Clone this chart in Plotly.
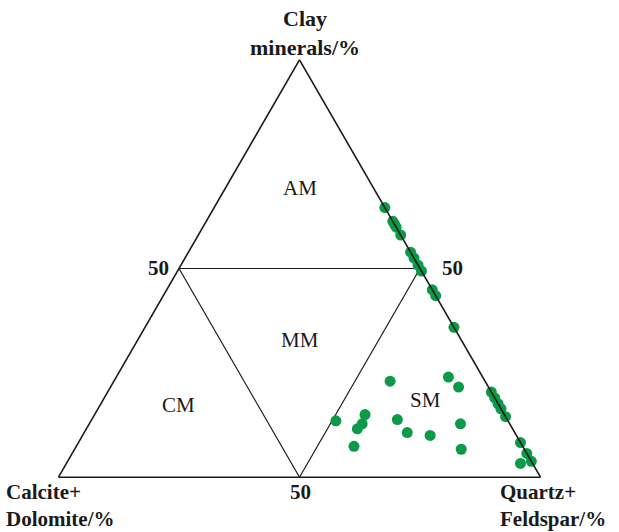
import plotly.graph_objects as go

# Sample composition (percent): clay minerals, calcite+dolomite, quartz+feldspar
clay = [64.6, 61.3, 60.6, 59.9, 58.0, 53.9, 52.5, 50.8, 49.4, 44.9, 43.5, 35.9,
        13.5, 15.0, 12.8, 11.6, 7.4, 23.0, 13.8, 10.7, 10.0, 24.0, 21.6, 12.8, 6.7,
        20.4, 19.0, 17.6, 16.4, 14.5, 8.3, 5.7, 3.8, 3.3]
carbonate = [0, 0, 0, 0, 0, 0, 0, 0, 0, 0, 0, 0,
             35.7, 28.9, 30.6, 32.2, 35.0, 19.7, 22.8, 22.3, 17.9, 7.1, 6.2, 10.2, 13.1,
             0, 0, 0, 0, 0, 0, 0, 0, 2.5]
quartz_feldspar = [35.4, 38.7, 39.4, 40.1, 42.0, 46.1, 47.5, 49.2, 50.6, 55.1, 56.5, 64.1,
                   50.8, 56.1, 56.6, 56.2, 57.6, 57.3, 63.4, 67.0, 72.1, 68.9, 72.2, 77.0, 80.2,
                   79.6, 81.0, 82.4, 83.6, 85.5, 91.7, 94.3, 96.2, 94.2]

# Lithofacies boundaries at 50 %
half = 50
region_names = ["AM", "MM", "CM", "SM"]

W, H = 619, 532
SERIF = "Liberation Serif, Times New Roman, serif"
INK = "#1a1a1a"
GREEN = "#0c9a48"

fig = go.Figure()

# Inner dividing lines: a=50 horizontal, and the two edges of the central triangle
boundaries = [
    ([half, half], [half, 0], [0, half]),
    ([half, 0], [half, half], [0, half]),
    ([half, 0], [0, half], [half, half]),
]
for a, b, c in boundaries:
    fig.add_trace(go.Scatterternary(
        a=a, b=b, c=c, mode="lines",
        line=dict(color=INK, width=1.2),
        hoverinfo="skip", showlegend=False,
    ))

fig.add_trace(go.Scatterternary(
    a=clay, b=carbonate, c=quartz_feldspar, mode="markers",
    marker=dict(color=GREEN, size=11, line=dict(width=0)),
    cliponaxis=False, showlegend=False,
))

axis_style = dict(
    showgrid=False, showticklabels=False, ticks="",
    linecolor=INK, linewidth=1.6, min=0, title=dict(text=""),
)

fig.update_layout(
    width=W, height=H,
    margin=dict(l=0, r=0, t=0, b=0),
    paper_bgcolor="white",
    ternary=dict(
        sum=100,
        bgcolor="white",
        domain=dict(x=[58.5 / W, 540.5 / W], y=[48.5 / H, 478.5 / H]),
        aaxis=axis_style, baxis=axis_style, caxis=axis_style,
    ),
)


def label(text, px, py, size, bold=False, xanchor="center", align="center"):
    fig.add_annotation(
        x=px / W, y=1 - py / H, xref="paper", yref="paper",
        text=text, showarrow=False, xanchor=xanchor, yanchor="middle", align=align,
        font=dict(family=SERIF, size=size, color=INK, weight="bold" if bold else "normal"),
    )


# Corner titles
label("Clay<br>minerals/%", 305, 33, 22, bold=True)
label("Calcite+<br>Dolomite/%", 4, 505, 21, bold=True, xanchor="left", align="left")
label("Quartz+<br>Feldspar/%", 498, 505, 21, bold=True, xanchor="left", align="left")

# 50 % tick labels
label(str(half), 158, 268, 21, bold=True)
label(str(half), 452, 268, 21, bold=True)
label(str(half), 300, 492, 21, bold=True)

# Region names
for name, (px, py) in zip(region_names, [(300, 188), (300, 340), (178, 405), (425, 400)]):
    label(name, px, py, 21)

fig.write_html("out.html")
